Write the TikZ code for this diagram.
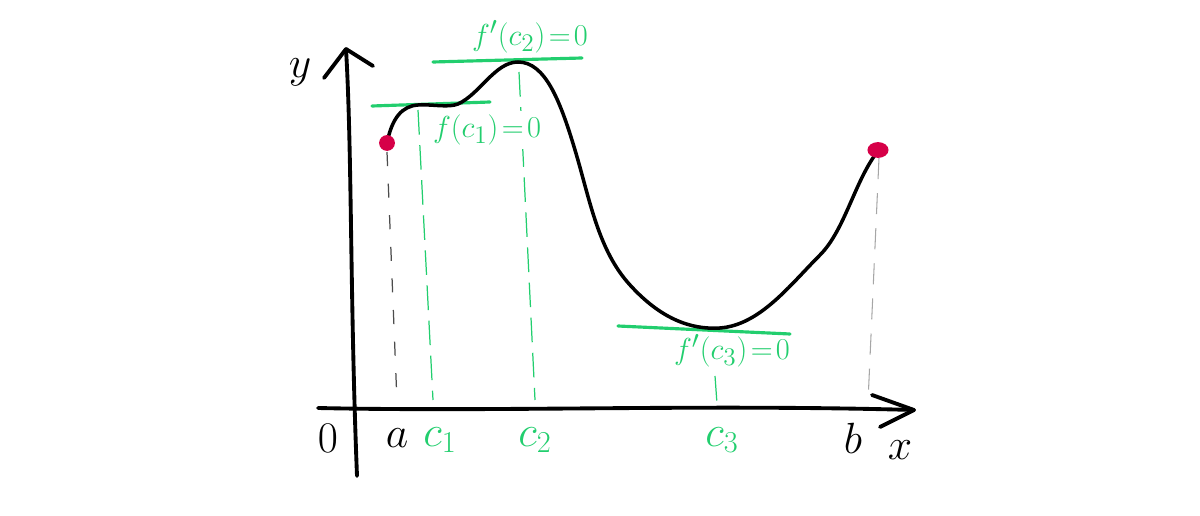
\documentclass[tikz,border=0pt]{standalone}
\usepackage{amsmath}
\usetikzlibrary{shapes.geometric}
\definecolor{grn}{RGB}{34,206,110}
\definecolor{dotred}{RGB}{214,0,72}
\tikzset{
  axis/.style={line width=2.2pt, black, line cap=round, line join=round},
  curve/.style={line width=2pt, black, line cap=round},
  tangent/.style={line width=1.8pt, grn, line cap=round},
  guide/.style={line width=0.7pt, grn, dash pattern=on 14pt off 6pt},
  guideblk/.style={line width=0.7pt, black!70, dash pattern=on 8pt off 10pt},
  lbl/.style={font=\fontsize{27}{30}\selectfont, inner sep=0pt},
  glbl/.style={lbl, text=grn},
  eq/.style={font=\fontsize{19}{22}\selectfont, inner sep=0pt, text=grn},
  dot/.style={circle, fill=dotred, minimum size=9pt, inner sep=0pt}
}
\begin{document}
\begin{tikzpicture}[x=0.02cm, y=-0.02cm]
\useasboundingbox (0,0) rectangle (1200,516);
% axes
\coordinate (yb) at (357,476);
\coordinate (yt) at (346,49);
\coordinate (yl) at (324,78);
\coordinate (yr) at (373,66);
\coordinate (xl) at (318,408);
\coordinate (xt) at (914,410);
\coordinate (xu) at (872,395);
\coordinate (xd) at (880,427);
\draw[axis] (yb) .. controls (350,300) and (352,150) .. (yt);
\draw[axis] (yl) -- (yt) -- (yr);
\draw[axis] (xl) .. controls (500,412) and (700,404) .. (xt);
\draw[axis] (xu) -- (xt) -- (xd);
% guides
\draw[guideblk] (387,152) -- (397,402);
\draw[guide] (418,110) -- (433,400);
\draw[guide] (519,72) -- (535,400);
\draw[guide] (715,376) -- (717,404);
\draw[line width=0.6pt, black!35, dash pattern=on 12pt off 8pt] (879,158) -- (868,402);
% tangent lines
\draw[tangent] (372,106) -- (490,102);
\draw[tangent] (433,62) -- (582,58);
\draw[tangent] (618,326) -- (790,334);
% curve
\draw[curve] (387,143) .. controls (392,118) and (402,106) .. (418,105)
  .. controls (432,104) and (448,108) .. (458,104)
  .. controls (480,94) and (495,62) .. (518,62)
  .. controls (545,62) and (560,100) .. (575,150)
  .. controls (590,200) and (598,250) .. (630,285)
  .. controls (660,318) and (690,330) .. (720,328)
  .. controls (760,325) and (790,285) .. (820,255)
  .. controls (845,230) and (855,180) .. (878,151);
% end points
\node[dot] (pa) at (387,143) {};
\node[ellipse, fill=dotred, minimum width=12pt, minimum height=9pt, inner sep=0pt] (pb) at (878,150) {};
% labels
\node[lbl] (l0) at (328,438) {$0$};
\node[lbl] (la) at (397,438) {$a$};
\node[glbl] (lc1) at (440,440) {$c_1$};
\node[glbl] (lc2) at (535,440) {$c_2$};
\node[glbl] (lc3) at (722,440) {$c_3$};
\node[lbl] (lb) at (853,438) {$b$};
\node[lbl, font=\fontsize{38}{42}\selectfont] (lx) at (900,450) {$x$};
\node[lbl, font=\fontsize{38}{42}\selectfont] (ly) at (300,72) {$y$};
\node[eq] (t2) at (530,37) {$f'(c_2)\!=\!0$};
\node[eq, fill=white, inner sep=2pt] (t1) at (487,130) {$f(c_1)\!=\!0$};
\node[eq] (t3) at (732,351) {$f'(c_3)\!=\!0$};
\end{tikzpicture}
\end{document}
